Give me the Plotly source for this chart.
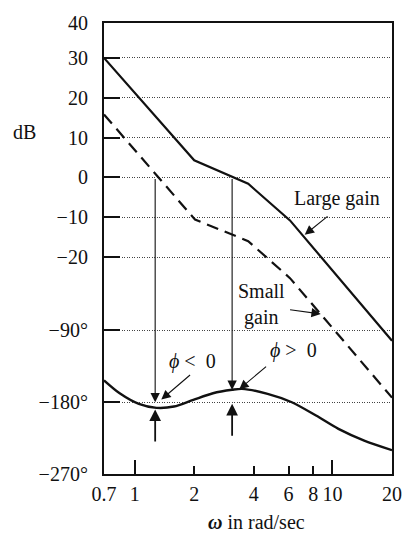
import math
import plotly.graph_objects as go

# ---------------- data ----------------
OMEGA_LARGE = [0.7, 2.0, 3.75, 6.1, 20.0]
DB_LARGE = [30.0, 4.3, -1.6, -10.8, -41.0]

OMEGA_SMALL = [0.7, 2.02, 3.75, 6.1, 20.0]
DB_SMALL = [15.8, -10.6, -16.0, -25.3, -55.3]

OMEGA_PHASE = [0.7, 0.84, 1.05, 1.29, 1.58, 1.98, 2.49, 3.11, 3.49, 4.7, 6.23, 8.26, 10.72, 14.47, 20.0]
PHASE_DEG = [-152.5, -168.7, -182, -187, -185.4, -177, -168.7, -164.4, -163.2, -169.5, -180,
             -196.7, -213.4, -228.1, -240.1]

X_TICKS = [0.7, 1, 2, 4, 6, 8, 10, 20]
X_TICK_TEXT = ["0.7", "1", "2", "4", "6", "8", "10", "20"]
DB_TICKS = [40, 30, 20, 10, 0, -10, -20]
DEG_TICKS = [-90, -180, -270]

OMEGA_CROSS_SMALL = 1.27
OMEGA_CROSS_LARGE = 3.11

# ---------------- shared vertical scale: dB on top, degrees below ----------------
Y_OF_M180 = -56.46      # axis position of -180 deg
UNITS_PER_DEG = 0.2002  # axis units per degree
Y_TOP = 38.77           # top of frame (labelled 40)


def deg_to_y(d):
    return Y_OF_M180 + (d + 180.0) * UNITS_PER_DEG


Y_BOTTOM = deg_to_y(-270)

tickvals = [Y_TOP if v == 40 else v for v in DB_TICKS] + [deg_to_y(d) for d in DEG_TICKS]
ticktext = [str(v).replace("-", "\u2212") for v in DB_TICKS] + [
    "\u2212%d\u00b0" % abs(d) for d in DEG_TICKS
]

FONT = "Liberation Serif"
BLACK = "#111111"
PHI = "\u03d5"

fig = go.Figure()
fig.add_trace(go.Scatter(x=OMEGA_LARGE, y=DB_LARGE, mode="lines",
                         line=dict(color=BLACK, width=2.2), hoverinfo="skip"))
fig.add_trace(go.Scatter(x=OMEGA_SMALL, y=DB_SMALL, mode="lines",
                         line=dict(color=BLACK, width=2.2, dash="12px,7px"), hoverinfo="skip"))
fig.add_trace(go.Scatter(x=OMEGA_PHASE, y=[deg_to_y(d) for d in PHASE_DEG], mode="lines",
                         line=dict(color=BLACK, width=2.4, shape="spline", smoothing=0.8),
                         hoverinfo="skip"))
# carrier for the overlay axis with the longer decade ticks
fig.add_trace(go.Scatter(x=[X_TICKS[0], X_TICKS[-1]], y=[0, 0], xaxis="x2", mode="lines",
                         line=dict(width=0), opacity=0, hoverinfo="skip"))

xr = [math.log10(X_TICKS[0]), math.log10(X_TICKS[-1])]
L = math.log10


def arrow(x_tip, y_tip, x_tail, y_tail, width=1.1, size=1.7):
    fig.add_annotation(x=L(x_tip), y=y_tip, ax=L(x_tail), ay=y_tail,
                       xref="x", yref="y", axref="x", ayref="y", text="",
                       showarrow=True, arrowhead=2, arrowsize=size, arrowwidth=width,
                       arrowcolor=BLACK, standoff=0, startstandoff=0)


def label(x, y, text, size=20):
    fig.add_annotation(x=L(x), y=y, xref="x", yref="y", text=text, showarrow=False,
                       font=dict(family=FONT, size=size, color=BLACK),
                       xanchor="center", yanchor="middle")


# crossover verticals and margin arrows
arrow(OMEGA_CROSS_SMALL, deg_to_y(-180), OMEGA_CROSS_SMALL, 0)
arrow(OMEGA_CROSS_SMALL, deg_to_y(-189), OMEGA_CROSS_SMALL, deg_to_y(-231), width=1.8, size=1.3)
arrow(OMEGA_CROSS_LARGE, deg_to_y(-164.5), OMEGA_CROSS_LARGE, 0)
arrow(OMEGA_CROSS_LARGE, deg_to_y(-182), OMEGA_CROSS_LARGE, deg_to_y(-224), width=1.8, size=1.3)

# text labels with pointers
label(10.5, -5.3, "Large gain")
arrow(7.24, -14.4, 9.61, -9.5)
label(4.37, -31.9, "Small<br>gain")
arrow(8.73, -34.3, 6.0, -33.2)
label(1.97, -46.35, "<i>" + PHI + "</i> &lt;&nbsp; 0")
arrow(1.364, -55.8, 1.94, -49.3)
label(6.34, -43.4, "<i>" + PHI + "</i> &gt;&nbsp; 0")
arrow(3.38, -53.2, 4.7, -47.2)

# axis captions
fig.add_annotation(x=-0.277, y=0.7585, xref="paper", yref="paper", text="dB",
                   showarrow=False, xanchor="center", yanchor="middle",
                   font=dict(family=FONT, size=20, color=BLACK))
fig.add_annotation(x=0.530, y=-0.106, xref="paper", yref="paper",
                   text="<b><i>\u03c9</i></b> in rad/sec", showarrow=False,
                   xanchor="center", yanchor="middle",
                   font=dict(family=FONT, size=20, color=BLACK))

fig.update_layout(
    width=414, height=540,
    margin=dict(l=104, r=12, t=23, b=66),
    paper_bgcolor="white", plot_bgcolor="white",
    showlegend=False,
    font=dict(family=FONT, size=20, color=BLACK),
    xaxis=dict(type="log", range=xr, tickmode="array", tickvals=X_TICKS, ticktext=X_TICK_TEXT,
               ticks="inside", ticklen=8, tickwidth=1.5, tickcolor=BLACK,
               showgrid=False, zeroline=False, showline=True, linewidth=2.2, linecolor=BLACK,
               mirror=True, ticklabelstandoff=1, tickfont=dict(family=FONT, size=20, color=BLACK)),
    xaxis2=dict(type="log", range=xr, overlaying="x", side="bottom", tickmode="array",
                tickvals=[1, 10], ticks="inside", ticklen=14, tickwidth=1.5, tickcolor=BLACK,
                showticklabels=False, showgrid=False, zeroline=False, showline=False),
    yaxis=dict(range=[Y_BOTTOM, Y_TOP], tickmode="array", tickvals=tickvals, ticktext=ticktext,
               ticks="inside", ticklen=16, tickwidth=2, tickcolor=BLACK,
               showgrid=True, gridcolor="#444444", gridwidth=1, griddash="1px,1.5px",
               zeroline=False, showline=True, linewidth=2.2, linecolor=BLACK, mirror=True,
               ticklabelstandoff=10, tickfont=dict(family=FONT, size=20, color=BLACK)),
)

fig.write_html("out.html", config={"displayModeBar": False},
               post_script="document.body.style.margin='0px';document.body.style.overflow='hidden';")
